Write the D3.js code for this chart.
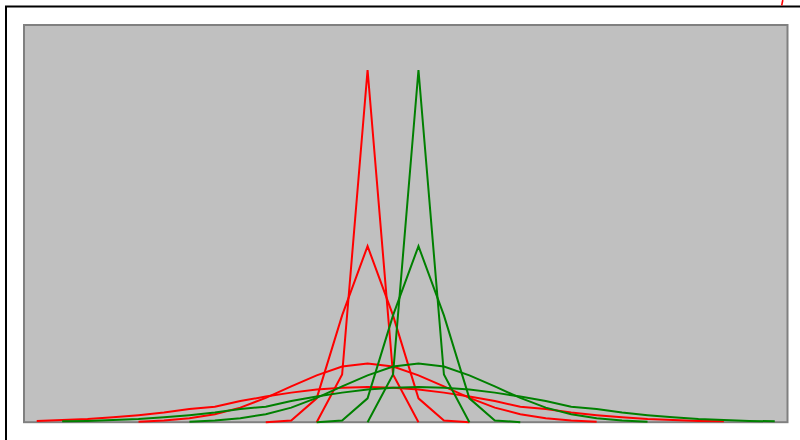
<!DOCTYPE html>
<html>
<head>
<meta charset="utf-8">
<script src="https://cdn.jsdelivr.net/npm/d3@7"></script>
<style>
  html, body { margin: 0; padding: 0; background: #fff; overflow: hidden; }
  #chart { width: 800px; height: 440px; }
</style>
</head>
<body>
<div id="chart"></div>
<script>
// x categories (integer offsets), red curves centred on -1, green on +1
const xValues = [-14, -13, -12, -11, -10, -9, -8, -7, -6, -5, -4, -3, -2, -1, 0,
                 1, 2, 3, 4, 5, 6, 7, 8, 9, 10, 11, 12, 13, 14, 15];

// red series, one value per category (null = no point)
const redWidest = [0.003, 0.005, 0.007, 0.011, 0.016, 0.022, 0.030, 0.035, 0.048, 0.058,
                   0.067, 0.074, 0.078, 0.080, 0.078, 0.074, 0.067, 0.058, 0.048, 0.035,
                   0.030, 0.022, 0.016, 0.011, 0.007, 0.005, 0.003, 0.002, null, null];
const redWide = [null, null, null, null, 0.001, 0.004, 0.009, 0.018, 0.033, 0.055,
                 0.081, 0.106, 0.126, 0.133, 0.126, 0.106, 0.081, 0.055, 0.033, 0.018,
                 0.009, 0.004, 0.001, null, null, null, null, null, null, null];
const redNarrow = [null, null, null, null, null, null, null, null, null, 0.000,
                   0.004, 0.054, 0.242, 0.399, 0.242, 0.054, 0.004, 0.000, null, null,
                   null, null, null, null, null, null, null, null, null, null];
const redSpike = [null, null, null, null, null, null, null, null, null, null,
                  null, 0.000, 0.108, 0.798, 0.108, 0.000, null, null, null, null,
                  null, null, null, null, null, null, null, null, null, null];

// green series
const greenWidest = [null, 0.002, 0.003, 0.005, 0.007, 0.011, 0.016, 0.022, 0.030, 0.035,
                     0.048, 0.058, 0.067, 0.074, 0.078, 0.080, 0.078, 0.074, 0.067, 0.058,
                     0.048, 0.035, 0.030, 0.022, 0.016, 0.011, 0.007, 0.005, 0.003, 0.002];
const greenWide = [null, null, null, null, null, null, 0.001, 0.004, 0.009, 0.018,
                   0.033, 0.055, 0.081, 0.106, 0.126, 0.133, 0.126, 0.106, 0.081, 0.055,
                   0.033, 0.018, 0.009, 0.004, 0.001, null, null, null, null, null];
const greenNarrow = [null, null, null, null, null, null, null, null, null, null,
                     null, 0.000, 0.004, 0.054, 0.242, 0.399, 0.242, 0.054, 0.004, 0.000,
                     null, null, null, null, null, null, null, null, null, null];
const greenSpike = [null, null, null, null, null, null, null, null, null, null,
                    null, null, null, 0.000, 0.108, 0.798, 0.108, 0.000, null, null,
                    null, null, null, null, null, null, null, null, null, null];

const series = [
  { values: redWidest, color: '#ff0000' },
  { values: redWide, color: '#ff0000' },
  { values: redNarrow, color: '#ff0000' },
  { values: redSpike, color: '#ff0000' },
  { values: greenWidest, color: '#008000' },
  { values: greenWide, color: '#008000' },
  { values: greenNarrow, color: '#008000' },
  { values: greenSpike, color: '#008000' },
];

const W = 800, H = 440;
const plot = { left: 24, top: 25, right: 787.5, bottom: 422.2 };

const svg = d3.select('#chart')
  .append('svg')
    .attr('width', W)
    .attr('height', H);

svg.append('rect')
  .attr('width', W).attr('height', H)
  .attr('fill', '#ffffff');

// outer frame (runs off the right and bottom edge)
svg.append('rect')
  .attr('x', 6).attr('y', 6.5)
  .attr('width', 900).attr('height', 600)
  .attr('fill', 'none')
  .attr('stroke', '#000')
  .attr('stroke-width', 2);

// small red mark peeking in at the top right
svg.append('line')
  .attr('x1', 782.8).attr('y1', 0)
  .attr('x2', 781.7).attr('y2', 5.5)
  .attr('stroke', '#ff0000')
  .attr('stroke-width', 1.6);

// plot area
svg.append('rect')
  .attr('x', plot.left).attr('y', plot.top)
  .attr('width', plot.right - plot.left)
  .attr('height', plot.bottom - plot.top)
  .attr('fill', '#c0c0c0')
  .attr('stroke', '#808080')
  .attr('stroke-width', 2);

const x = d3.scaleLinear()
  .domain([xValues[0] - 0.5, xValues[xValues.length - 1] + 0.5])
  .range([plot.left, plot.right]);

const y = d3.scaleLinear()
  .domain([0, 0.9])
  .range([plot.bottom, plot.top]);

const line = d3.line()
  .defined(d => d[1] != null)
  .x(d => x(d[0]))
  .y(d => y(d[1]));

svg.append('g')
  .selectAll('path')
  .data(series)
  .join('path')
    .attr('d', s => line(xValues.map((v, i) => [v, s.values[i]])))
    .attr('fill', 'none')
    .attr('stroke', s => s.color)
    .attr('stroke-width', 2)
    .attr('stroke-linejoin', 'miter');
</script>
</body>
</html>
